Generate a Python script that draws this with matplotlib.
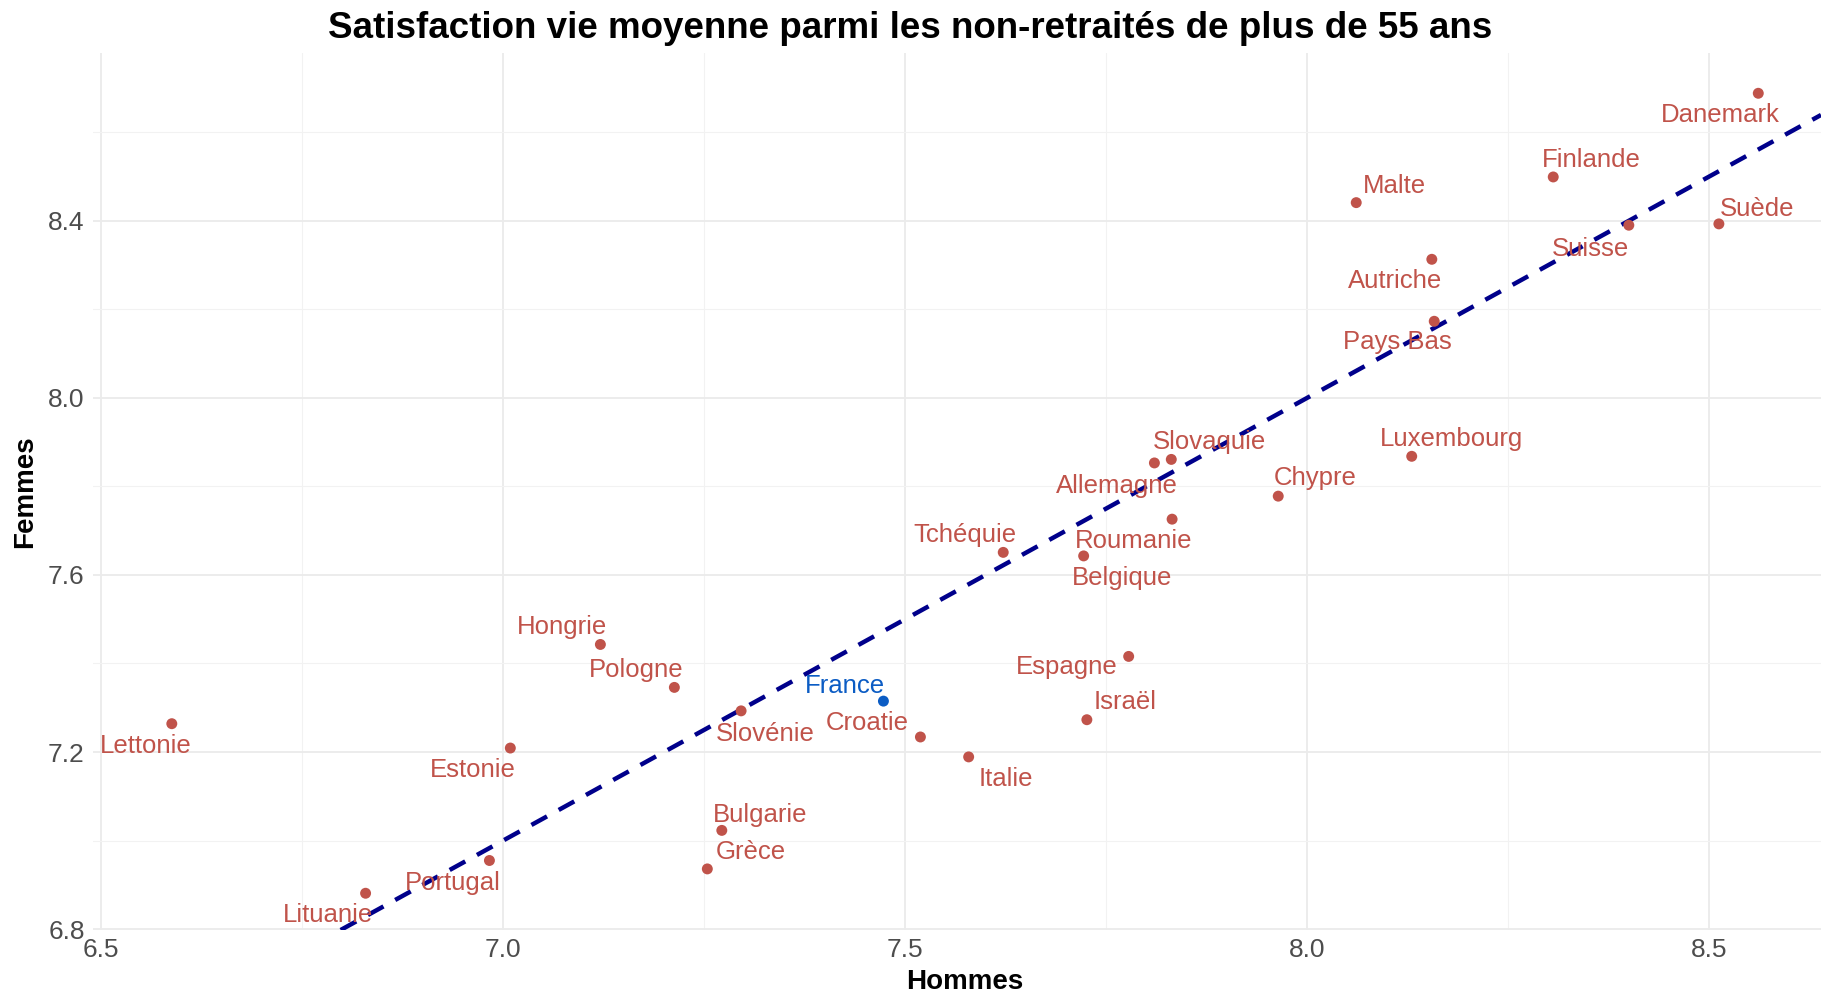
import matplotlib
matplotlib.use("Agg")
import matplotlib.pyplot as plt
from matplotlib.ticker import MultipleLocator, FormatStrFormatter

plt.rcParams['font.family'] = ['Liberation Sans', 'DejaVu Sans']

pays = ["Danemark", "Finlande", "Malte", "Suisse", "Suède", "Autriche", "Pays Bas",
        "Luxembourg", "Slovaquie", "Allemagne", "Chypre", "Roumanie", "Tchéquie",
        "Belgique", "Espagne", "Israël", "Croatie", "Italie", "France", "Hongrie",
        "Pologne", "Slovénie", "Lettonie", "Estonie", "Bulgarie", "Grèce",
        "Portugal", "Lituanie"]
hommes = [8.561, 8.306, 8.061, 8.400, 8.512, 8.155, 8.158,
          8.130, 7.831, 7.810, 7.964, 7.832, 7.622,
          7.722, 7.778, 7.726, 7.519, 7.579, 7.473, 7.121,
          7.213, 7.296, 6.588, 7.009, 7.272, 7.254,
          6.983, 6.829]
femmes = [8.688, 8.499, 8.441, 8.390, 8.393, 8.313, 8.173,
          7.868, 7.861, 7.853, 7.778, 7.726, 7.651,
          7.643, 7.416, 7.273, 7.234, 7.189, 7.315, 7.443,
          7.346, 7.293, 7.264, 7.209, 7.023, 6.936,
          6.955, 6.881]
pays_mis_en_avant = "France"

# label offsets (pixels at 100 dpi) — layout only
offsets_px = {
    "Danemark": (-38, 20), "Finlande": (38, -19), "Malte": (38, -19),
    "Suisse": (-38, 22), "Suède": (38, -17), "Autriche": (-37, 20),
    "Pays Bas": (-37, 19), "Luxembourg": (40, -19), "Slovaquie": (38, -19),
    "Allemagne": (-38, 21), "Chypre": (37, -20), "Roumanie": (-38, 20),
    "Tchéquie": (-38, -19), "Belgique": (38, 20), "Espagne": (-62, 9),
    "Israël": (38, -20), "Croatie": (-53, -16), "Italie": (37, 20),
    "France": (-38, -17), "Hongrie": (-38, -19), "Pologne": (-38, -19),
    "Slovénie": (24, 21), "Lettonie": (-26, 20), "Estonie": (-38, 20),
    "Bulgarie": (38, -17), "Grèce": (43, -19), "Portugal": (-37, 21),
    "Lituanie": (-38, 20),
}
LABEL_SHIFT_PX = 2

RED = "#C0534A"
BLUE = "#0B5CC4"

W, H = 1821, 997
fig = plt.figure(figsize=(W / 100, H / 100), dpi=100)
ax = fig.add_axes([93 / W, (H - 930) / H, (W - 93) / W, (930 - 53) / H])

ax.set_xlim(6.490, 8.639)
ax.set_ylim(6.798, 8.779)

ax.xaxis.set_major_locator(MultipleLocator(0.5))
ax.xaxis.set_minor_locator(MultipleLocator(0.25))
ax.yaxis.set_major_locator(MultipleLocator(0.4))
ax.yaxis.set_minor_locator(MultipleLocator(0.2))
ax.grid(True, which="major", color="#EBEBEB", linewidth=1.3, zorder=0)
ax.grid(True, which="minor", color="#F2F2F2", linewidth=0.8, zorder=0)
for s in ax.spines.values():
    s.set_visible(False)
ax.tick_params(which="both", length=0)
ax.tick_params(axis="both", which="major", labelsize=19, labelcolor="#4D4D4D", pad=6)
ax.xaxis.set_major_formatter(FormatStrFormatter("%.1f"))
ax.yaxis.set_major_formatter(FormatStrFormatter("%.1f"))
ax.set_axisbelow(True)

ax.axline((7.0, 7.0), (8.0, 8.0), color="#00008B", linewidth=3.2,
          linestyle=(0, (4, 3)), zorder=2)

colors = [BLUE if p == pays_mis_en_avant else RED for p in pays]
ax.scatter(hommes, femmes, s=62, c=colors, zorder=3, linewidths=0)

for p, x, y, c in zip(pays, hommes, femmes, colors):
    dx, dy = offsets_px[p]
    ax.annotate(p, (x, y), xytext=(dx * 0.72, -(dy + LABEL_SHIFT_PX) * 0.72),
                textcoords="offset points",
                ha="center", va="center", fontsize=18.5, color=c, zorder=4)

ax.set_xlabel("Hommes", fontsize=20, fontweight="bold", labelpad=5)
ax.xaxis.set_label_coords(0.5045, -0.0355, transform=ax.transAxes) if False else None
ax.xaxis.label.set_x(0.5045)
ax.set_ylabel("Femmes", fontsize=20, fontweight="bold", labelpad=7)

fig.text(0.5, 1 - 29 / H, "Satisfaction vie moyenne parmi les non-retraités de plus de 55 ans",
         ha="center", va="center", fontsize=26.5, fontweight="bold")

fig.savefig("out.png", dpi=100)
